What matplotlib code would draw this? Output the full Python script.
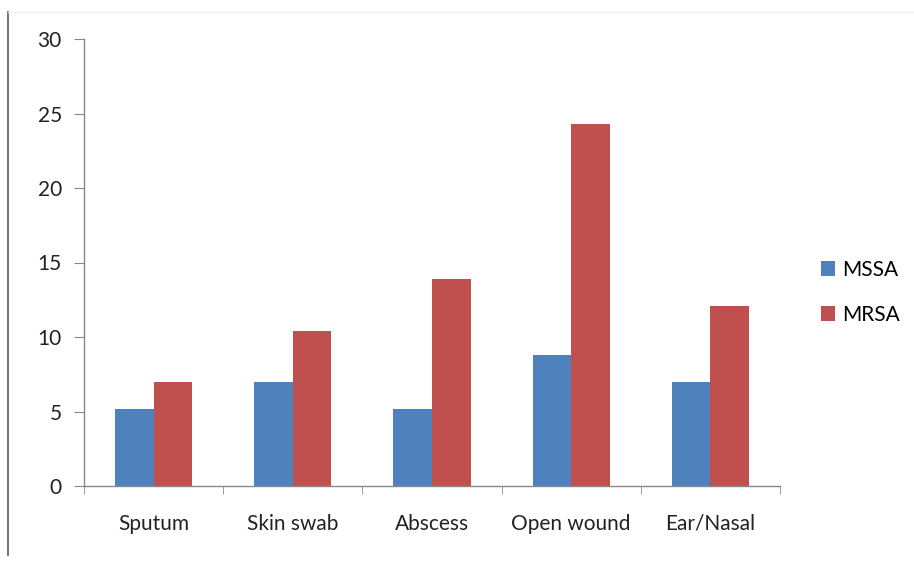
import matplotlib
matplotlib.use("Agg")
import matplotlib.pyplot as plt
import numpy as np

categories = ["Sputum", "Skin swab", "Abscess", "Open wound", "Ear/Nasal"]
mssa = [5.2, 7.0, 5.2, 8.8, 7.0]
mrsa = [7.0, 10.4, 13.9, 24.3, 12.1]
series_names = ["MSSA", "MRSA"]
yticks = [0, 5, 10, 15, 20, 25, 30]

plt.rcParams['font.family'] = ['Lato', 'DejaVu Sans']

fig = plt.figure(figsize=(9.14, 5.61), dpi=100)
ax = fig.add_axes([84/914, 1-486/561, (780-84)/914, (486-39)/561])

x = np.arange(len(categories))
w = 0.277
b1 = ax.bar(x - w/2, mssa, w, color="#4F81BD", label=series_names[0])
b2 = ax.bar(x + w/2, mrsa, w, color="#C0504D", label=series_names[1])

ax.set_xlim(-0.5, len(categories) - 0.5)
ax.set_ylim(0, 30)
ax.set_yticks(yticks)
ax.set_yticklabels([str(t) for t in yticks])
ax.set_xticks(x)
ax.set_xticklabels(categories)
ax.tick_params(axis='x', length=0, pad=20, labelsize=15, colors='#222222')
ax.set_xticks(np.arange(-0.5, len(categories)), minor=True)
ax.tick_params(axis='x', which='minor', length=6, color='#888888', direction='out')
ax.tick_params(axis='y', length=7, color='#888888', pad=9, labelsize=15, labelcolor='#222222')

for s in ['top', 'right']:
    ax.spines[s].set_visible(False)
for s in ['left', 'bottom']:
    ax.spines[s].set_color('#888888')
    ax.spines[s].set_linewidth(1.0)

leg = fig.legend(handles=[b1, b2], labels=series_names, loc='upper left',
                 bbox_to_anchor=(802/914, 1-241/561), frameon=False,
                 fontsize=15, handlelength=0.7, handleheight=0.7,
                 labelspacing=1.2, handletextpad=0.35)

# image frame lines
fig.add_artist(plt.Line2D([8/914, 8/914], [0.01, 1-12/561], color='#777777', lw=1.5, transform=fig.transFigure))
fig.add_artist(plt.Line2D([8/914, 1.0], [1-12/561, 1-12/561], color='#eeeeee', lw=1.0, transform=fig.transFigure))

fig.savefig("out.png", dpi=100)
